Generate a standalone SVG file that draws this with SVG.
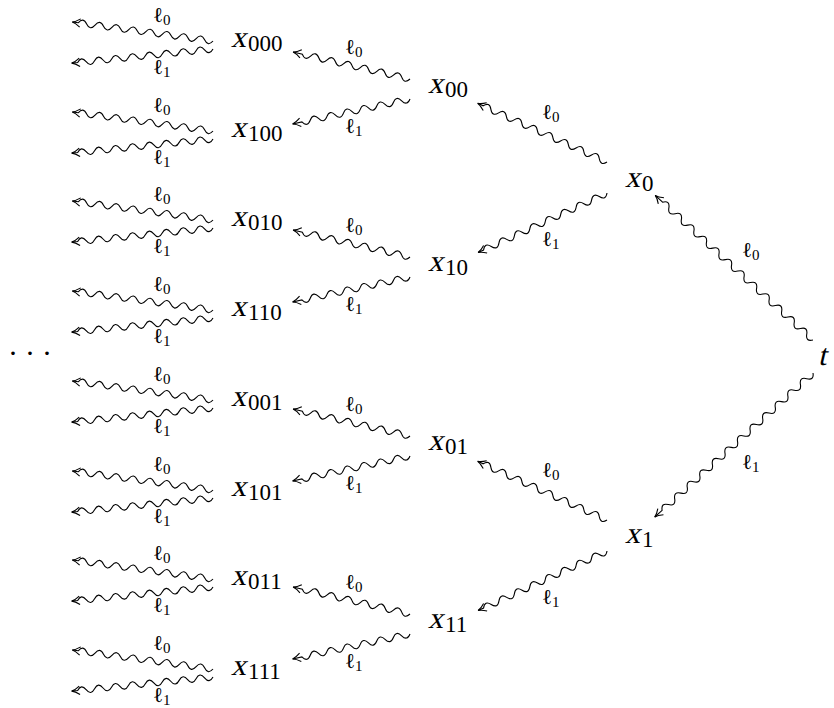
<svg xmlns="http://www.w3.org/2000/svg" xmlns:xlink="http://www.w3.org/1999/xlink" width="834" height="708" viewBox="0 0 834 708">
<style>
text{font-family:'Liberation Serif','DejaVu Serif',serif;fill:#000}
.v{font-size:30px}
.s{font-size:23px}
.l{font-size:21px}
.ls{font-size:15px}
.w{fill:none;stroke:#000;stroke-width:1.1;marker-end:url(#ah)}
</style>
<defs>
<marker id="ah" markerUnits="userSpaceOnUse" markerWidth="12" markerHeight="12" refX="0" refY="0" orient="auto" overflow="visible">
<path d="M-8,-4.2 Q-3.5,-0.7 0,0 Q-3.5,0.7 -8,4.2" fill="none" stroke="#000" stroke-width="1.1"/>
</marker>
<path id="w142" class="w" d="M0,0q4.25,-6.5 8.5,0t8.5,0t8.5,0t8.5,0t8.5,0t8.5,0t8.5,0t8.5,0t8.5,0t8.5,0t8.5,0t8.5,0t8.5,0t8.5,0t8.5,0t8.5,0h6"/>
<path id="w120" class="w" d="M0,0q4.25,-6.5 8.5,0t8.5,0t8.5,0t8.5,0t8.5,0t8.5,0t8.5,0t8.5,0t8.5,0t8.5,0t8.5,0t8.5,0t8.5,0h9.5"/>
<path id="w214" class="w" d="M0,0q4.25,-6.5 8.5,0t8.5,0t8.5,0t8.5,0t8.5,0t8.5,0t8.5,0t8.5,0t8.5,0t8.5,0t8.5,0t8.5,0t8.5,0t8.5,0t8.5,0t8.5,0t8.5,0t8.5,0t8.5,0t8.5,0t8.5,0t8.5,0t8.5,0t8.5,0h10"/>
</defs>
<g id="connectors">
<use xlink:href="#w214" transform="translate(813,340) rotate(222.5)"/>
<use xlink:href="#w214" transform="translate(813,373) rotate(137.7)"/>
<use xlink:href="#w142" transform="translate(607,162) rotate(204.4)"/>
<use xlink:href="#w142" transform="translate(607,193) rotate(155.2)"/>
<use xlink:href="#w142" transform="translate(607,520) rotate(204.4)"/>
<use xlink:href="#w142" transform="translate(607,551) rotate(155.2)"/>
<use xlink:href="#w120" transform="translate(410,79) rotate(193)"/>
<use xlink:href="#w120" transform="translate(410,99) rotate(168)"/>
<use xlink:href="#w120" transform="translate(410,257) rotate(193)"/>
<use xlink:href="#w120" transform="translate(410,277) rotate(168)"/>
<use xlink:href="#w120" transform="translate(410,436) rotate(193)"/>
<use xlink:href="#w120" transform="translate(410,456) rotate(168)"/>
<use xlink:href="#w120" transform="translate(410,614) rotate(193)"/>
<use xlink:href="#w120" transform="translate(410,634) rotate(168)"/>
<use xlink:href="#w142" transform="translate(213,41) rotate(187.7)"/>
<use xlink:href="#w142" transform="translate(213,49) rotate(174.3)"/>
<use xlink:href="#w142" transform="translate(213,131) rotate(187.7)"/>
<use xlink:href="#w142" transform="translate(213,139) rotate(174.3)"/>
<use xlink:href="#w142" transform="translate(213,220) rotate(187.7)"/>
<use xlink:href="#w142" transform="translate(213,228) rotate(174.3)"/>
<use xlink:href="#w142" transform="translate(213,310) rotate(187.7)"/>
<use xlink:href="#w142" transform="translate(213,318) rotate(174.3)"/>
<use xlink:href="#w142" transform="translate(213,400) rotate(187.7)"/>
<use xlink:href="#w142" transform="translate(213,408) rotate(174.3)"/>
<use xlink:href="#w142" transform="translate(213,490) rotate(187.7)"/>
<use xlink:href="#w142" transform="translate(213,498) rotate(174.3)"/>
<use xlink:href="#w142" transform="translate(213,579) rotate(187.7)"/>
<use xlink:href="#w142" transform="translate(213,587) rotate(174.3)"/>
<use xlink:href="#w142" transform="translate(213,669) rotate(187.7)"/>
<use xlink:href="#w142" transform="translate(213,677) rotate(174.3)"/>
<text class="l" x="742" y="257">ℓ<tspan class="ls" dy="3">0</tspan></text>
<text class="l" x="742" y="469">ℓ<tspan class="ls" dy="3">1</tspan></text>
<text class="l" x="542" y="119">ℓ<tspan class="ls" dy="3">0</tspan></text>
<text class="l" x="542" y="246">ℓ<tspan class="ls" dy="3">1</tspan></text>
<text class="l" x="542" y="477">ℓ<tspan class="ls" dy="3">0</tspan></text>
<text class="l" x="542" y="604">ℓ<tspan class="ls" dy="3">1</tspan></text>
<text class="l" x="345" y="54">ℓ<tspan class="ls" dy="3">0</tspan></text>
<text class="l" x="345" y="133">ℓ<tspan class="ls" dy="3">1</tspan></text>
<text class="l" x="345" y="232">ℓ<tspan class="ls" dy="3">0</tspan></text>
<text class="l" x="345" y="311">ℓ<tspan class="ls" dy="3">1</tspan></text>
<text class="l" x="345" y="411">ℓ<tspan class="ls" dy="3">0</tspan></text>
<text class="l" x="345" y="490">ℓ<tspan class="ls" dy="3">1</tspan></text>
<text class="l" x="345" y="589">ℓ<tspan class="ls" dy="3">0</tspan></text>
<text class="l" x="345" y="668">ℓ<tspan class="ls" dy="3">1</tspan></text>
<text class="l" x="153" y="22">ℓ<tspan class="ls" dy="3">0</tspan></text>
<text class="l" x="153" y="74">ℓ<tspan class="ls" dy="3">1</tspan></text>
<text class="l" x="153" y="112">ℓ<tspan class="ls" dy="3">0</tspan></text>
<text class="l" x="153" y="164">ℓ<tspan class="ls" dy="3">1</tspan></text>
<text class="l" x="153" y="201">ℓ<tspan class="ls" dy="3">0</tspan></text>
<text class="l" x="153" y="253">ℓ<tspan class="ls" dy="3">1</tspan></text>
<text class="l" x="153" y="291">ℓ<tspan class="ls" dy="3">0</tspan></text>
<text class="l" x="153" y="343">ℓ<tspan class="ls" dy="3">1</tspan></text>
<text class="l" x="153" y="381">ℓ<tspan class="ls" dy="3">0</tspan></text>
<text class="l" x="153" y="433">ℓ<tspan class="ls" dy="3">1</tspan></text>
<text class="l" x="153" y="471">ℓ<tspan class="ls" dy="3">0</tspan></text>
<text class="l" x="153" y="523">ℓ<tspan class="ls" dy="3">1</tspan></text>
<text class="l" x="153" y="560">ℓ<tspan class="ls" dy="3">0</tspan></text>
<text class="l" x="153" y="612">ℓ<tspan class="ls" dy="3">1</tspan></text>
<text class="l" x="153" y="650">ℓ<tspan class="ls" dy="3">0</tspan></text>
<text class="l" x="153" y="702">ℓ<tspan class="ls" dy="3">1</tspan></text>
</g>
<g id="t"><text class="v" transform="translate(818,365) skewX(-13)">t</text></g>
<g id="x0"><text class="v" transform="translate(625,187) skewX(-13)">x</text><text class="s" x="642" y="191">0</text></g>
<g id="x1"><text class="v" transform="translate(625,543) skewX(-13)">x</text><text class="s" x="642" y="547">1</text></g>
<g id="x00"><text class="v" transform="translate(428,93) skewX(-13)">x</text><text class="s" x="445" y="97">00</text></g>
<g id="x10"><text class="v" transform="translate(428,271) skewX(-13)">x</text><text class="s" x="445" y="275">10</text></g>
<g id="x01"><text class="v" transform="translate(428,450) skewX(-13)">x</text><text class="s" x="445" y="454">01</text></g>
<g id="x11"><text class="v" transform="translate(428,628) skewX(-13)">x</text><text class="s" x="445" y="632">11</text></g>
<g id="x000"><text class="v" transform="translate(231,47) skewX(-13)">x</text><text class="s" x="248" y="51">000</text></g>
<g id="x100"><text class="v" transform="translate(231,137) skewX(-13)">x</text><text class="s" x="248" y="141">100</text></g>
<g id="x010"><text class="v" transform="translate(231,226) skewX(-13)">x</text><text class="s" x="248" y="230">010</text></g>
<g id="x110"><text class="v" transform="translate(231,316) skewX(-13)">x</text><text class="s" x="248" y="320">110</text></g>
<g id="x001"><text class="v" transform="translate(231,406) skewX(-13)">x</text><text class="s" x="248" y="410">001</text></g>
<g id="x101"><text class="v" transform="translate(231,496) skewX(-13)">x</text><text class="s" x="248" y="500">101</text></g>
<g id="x011"><text class="v" transform="translate(231,585) skewX(-13)">x</text><text class="s" x="248" y="589">011</text></g>
<g id="x111"><text class="v" transform="translate(231,675) skewX(-13)">x</text><text class="s" x="248" y="679">111</text></g>
<g id="dots"><text x="8" y="363" font-size="30" letter-spacing="7">···</text></g>
</svg>
